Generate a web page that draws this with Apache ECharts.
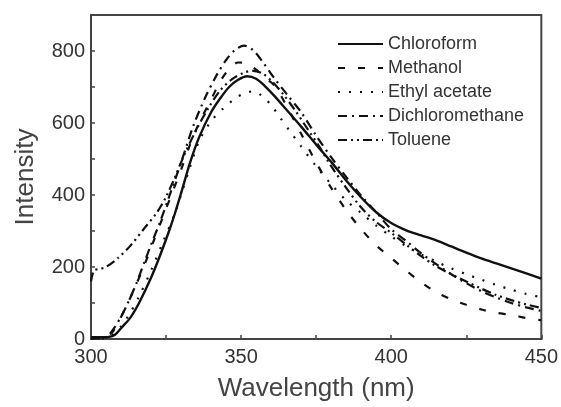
<!DOCTYPE html>
<html>
<head>
<meta charset="utf-8">
<script src="https://cdn.jsdelivr.net/npm/echarts@6/dist/echarts.min.js"></script>
<style>html,body{margin:0;padding:0;background:#fff}#c{width:561px;height:407px}</style>
</head>
<body>
<div id="c"></div>
<script>
var seriesNames = ['Chloroform', 'Methanol', 'Ethyl acetate', 'Dichloromethane', 'Toluene'];

var chloroformX = [300,303,306,308,310,313,316,320,323,326,328,330,333,336,340,343,346,349,352,355,358,361,365,370,375,380,385,390,395,400,405,410,415,420,425,430,435,440,445,450];
var chloroformY = [5,5,6,12,30,58,100,170,232,300,350,405,490,560,630,668,700,720,730,723,702,676,638,590,540,492,440,393,352,322,302,288,274,257,240,224,210,196,182,168];

var methanolX = [300,303,305,307,309,312,315,318,321,324,327,330,333,336,340,343,346,349,352,355,358,361,365,370,375,380,385,390,395,400,405,410,415,420,425,430,435,440,445,450];
var methanolY = [3,3,5,18,45,95,150,210,275,340,405,470,540,600,665,715,750,768,765,748,725,705,650,570,490,420,358,305,260,225,190,157,130,110,95,82,73,67,58,52];

var ethylX = [300,304,307,310,313,316,320,324,328,330,333,336,340,344,348,351,354,357,360,363,366,370,375,380,385,390,395,400,405,410,415,420,425,430,435,440,445,450];
var ethylY = [0,1,10,35,72,118,190,270,350,400,478,550,605,640,668,682,688,675,650,615,580,535,480,430,385,350,315,285,258,235,215,196,180,165,150,137,125,116];

var dichloroX = [300,304,306,308,310,312,315,318,320,323,326,330,334,338,342,345,348,351,354,357,361,366,370,375,380,385,390,395,400,405,410,415,420,425,430,435,440,445,450];
var dichloroY = [2,2,12,34,62,95,152,218,262,325,395,490,590,670,735,775,803,815,802,772,725,672,630,565,505,450,398,352,305,272,238,208,180,155,133,115,100,88,78];

var tolueneX = [300,301,303,305,309,313,318,322,325,328,331,335,339,343,347,351,354,357,360,364,368,372,376,380,385,390,395,400,405,410,415,420,425,430,435,440,445,450];
var tolueneY = [160,190,195,200,225,258,310,352,395,450,510,580,640,690,722,740,745,738,718,680,635,585,535,480,420,365,325,295,262,230,202,180,160,140,122,108,96,86];

var xTicks = [300, 350, 400, 450];
var yTicks = [0, 200, 400, 600, 800];

function pairs(xs, ys) { return xs.map(function (x, i) { return [x, ys[i]]; }); }

var dataSets = [
  pairs(chloroformX, chloroformY),
  pairs(methanolX, methanolY),
  pairs(ethylX, ethylY),
  pairs(dichloroX, dichloroY),
  pairs(tolueneX, tolueneY)
];
var dashTypes = ['solid', [7, 13], [2, 9], [9, 5, 2, 5], [9, 4, 2, 4, 2, 4]];
var widths = [2.4, 2.2, 2.2, 2.2, 2.2];

var chart = echarts.init(document.getElementById('c'));
chart.setOption({
  animation: false,
  backgroundColor: '#fff',
  grid: { left: 91, right: 16, top: 15, bottom: 61, show: true, borderColor: '#444', borderWidth: 2, backgroundColor: 'transparent' },
  legend: {
    orient: 'vertical', left: 337, top: 35, padding: 0,
    itemWidth: 45, itemHeight: 14, itemGap: 6,
    itemStyle: { opacity: 0 },
    textStyle: { fontFamily: 'Liberation Sans, Arial, sans-serif', fontSize: 18, color: '#333' },
    data: seriesNames
  },
  xAxis: {
    type: 'value', min: 300, max: 450, interval: 25,
    name: 'Wavelength (nm)', nameLocation: 'middle', nameGap: 37,
    nameTextStyle: { fontFamily: 'Liberation Sans, Arial, sans-serif', fontSize: 26, color: '#444' },
    axisLine: { lineStyle: { color: '#444', width: 2 } },
    axisTick: { inside: true, length: 4, lineStyle: { color: '#444', width: 1.5 } },
    axisLabel: { margin: 8, fontFamily: 'Liberation Sans, Arial, sans-serif', fontSize: 20, color: '#333',
      formatter: function (v) { return xTicks.indexOf(v) >= 0 ? String(v) : ''; } },
    splitLine: { show: false }
  },
  yAxis: {
    type: 'value', min: 0, max: 900, interval: 100,
    name: 'Intensity', nameLocation: 'middle', nameGap: 52, nameRotate: 90,
    nameTextStyle: { fontFamily: 'Liberation Sans, Arial, sans-serif', fontSize: 26, color: '#444' },
    axisLine: { show: true, lineStyle: { color: '#444', width: 2 } },
    axisTick: { show: true, inside: true, length: 4, lineStyle: { color: '#444', width: 1.5 } },
    axisLabel: { margin: 6, fontFamily: 'Liberation Sans, Arial, sans-serif', fontSize: 20, color: '#333',
      formatter: function (v) { return yTicks.indexOf(v) >= 0 ? String(v) : ''; } },
    splitLine: { show: false }
  },
  series: seriesNames.map(function (n, i) {
    return {
      name: n, type: 'line', data: dataSets[i], symbol: 'none', smooth: 0.3,
      lineStyle: { color: '#111', width: widths[i], type: dashTypes[i] },
      itemStyle: { color: '#111' }
    };
  })
});
</script>
</body>
</html>
